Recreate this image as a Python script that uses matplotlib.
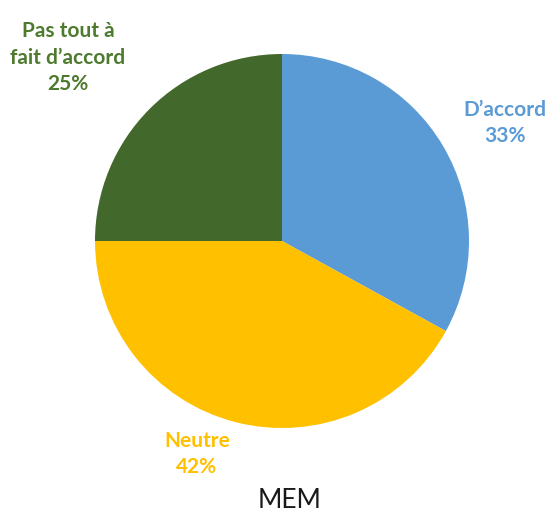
import matplotlib
matplotlib.use("Agg")
import matplotlib.pyplot as plt

# Survey answers (MEM)
labels = ["D\u2019accord", "Neutre", "Pas tout \u00e0\nfait d\u2019accord"]
values = [33, 42, 25]
colors = ["#5B9BD5", "#FFC000", "#43682B"]
text_colors = ["#5B9BD5", "#FFC000", "#4E7A2E"]
title = "MEM"

W, H = 548, 516
fig = plt.figure(figsize=(W / 100, H / 100), dpi=100)
cx, cy, r = 282, 241, 187
ax = fig.add_axes([(cx - r) / W, (H - cy - r) / H, 2 * r / W, 2 * r / H])

wedges, _ = ax.pie(values, colors=colors, startangle=90, counterclock=False,
                   radius=1, wedgeprops=dict(linewidth=0))
ax.set_xlim(-1, 1)
ax.set_ylim(-1, 1)
ax.set_aspect("equal")
ax.axis("off")

# label positions in data units of the pie
label_pos = [(1.19, 0.63), (-0.455, -1.14), (-1.145, 0.98)]
for lab, v, c, (x, y) in zip(labels, values, text_colors, label_pos):
    ax.text(x, y, f"{lab}\n{v}%", ha="center", va="center", color=c,
            fontsize=15, fontweight="bold", family="Lato",
            linespacing=1.4, clip_on=False)

ax.text(0.04, -1.39, title, ha="center", va="center", color="#1a1a1a",
        fontsize=19, family="Lato", clip_on=False)

fig.savefig("out.png", dpi=100, facecolor="white")
